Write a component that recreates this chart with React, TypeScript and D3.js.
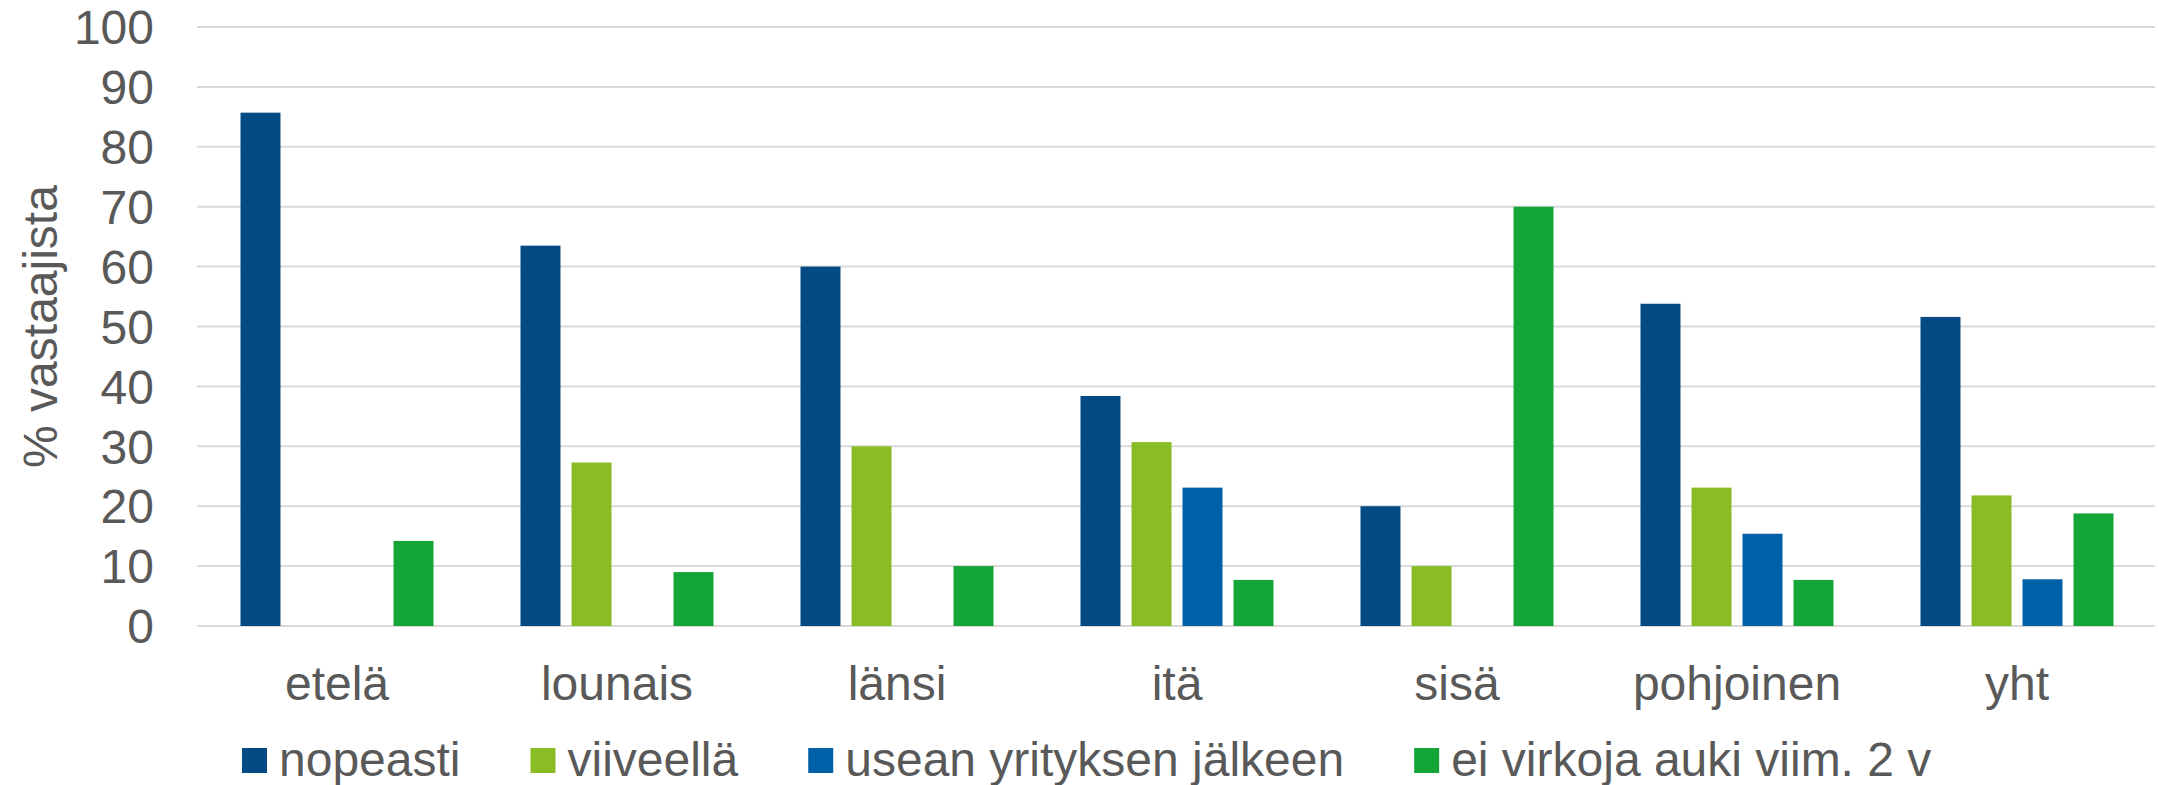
import React, { useEffect, useRef } from "react";
import * as d3 from "d3";

const regions = ["etelä", "lounais", "länsi", "itä", "sisä", "pohjoinen", "yht"];
const seriesNames = ["nopeasti", "viiveellä", "usean yrityksen jälkeen", "ei virkoja auki viim. 2 v"];
const seriesColors = ["#044a84", "#8abc26", "#0061a8", "#14a538"];

const nopeasti = [85.7, 63.5, 60, 38.4, 20, 53.8, 51.6];
const viiveella = [0, 27.3, 30, 30.7, 10, 23.1, 21.8];
const usean = [0, 0, 0, 23.1, 0, 15.4, 7.8];
const eiVirkoja = [14.2, 9, 10, 7.7, 70, 7.7, 18.8];

const yTicks = [0, 10, 20, 30, 40, 50, 60, 70, 80, 90, 100];

const W = 2158;
const H = 785;
const FONT = "'Liberation Sans', Arial, sans-serif";
const TEXT = "#595959";
const FS = 48;

export default function App() {
  const ref = useRef<SVGSVGElement>(null);

  useEffect(() => {
    const svg = d3.select(ref.current);
    svg.selectAll("*").remove();

    const values = [nopeasti, viiveella, usean, eiVirkoja];
    const left = 197, right = 2157, top = 27, bottom = 626;

    const x = d3.scaleBand<string>().domain(regions).range([left, right]);
    const xs = d3
      .scaleBand<number>()
      .domain(d3.range(seriesNames.length))
      .range([-96.5, 96.5])
      .paddingInner(0.216);
    const y = d3.scaleLinear().domain([0, 100]).range([bottom, top]);

    // grid
    svg
      .append("g")
      .selectAll("line")
      .data(yTicks)
      .join("line")
      .attr("x1", left)
      .attr("x2", 2155)
      .attr("y1", (d) => y(d))
      .attr("y2", (d) => y(d))
      .attr("stroke", "#d9d9d9")
      .attr("stroke-width", 2);

    // y tick labels
    svg
      .append("g")
      .selectAll("text")
      .data(yTicks)
      .join("text")
      .attr("x", 154)
      .attr("y", (d) => y(d))
      .attr("dy", "0.36em")
      .attr("text-anchor", "end")
      .attr("font-family", FONT)
      .attr("font-size", FS)
      .attr("fill", TEXT)
      .text((d) => d);

    // bars
    const groups = svg
      .append("g")
      .selectAll("g")
      .data(regions)
      .join("g")
      .attr("transform", (d) => `translate(${x(d)! + x.bandwidth() / 2},0)`);

    groups
      .selectAll("rect")
      .data((_, i) => values.map((s, k) => ({ k, v: s[i] })).filter((d) => d.v > 0))
      .join("rect")
      .attr("x", (d) => xs(d.k)!)
      .attr("width", xs.bandwidth())
      .attr("y", (d) => y(d.v))
      .attr("height", (d) => y(0) - y(d.v))
      .attr("fill", (d) => seriesColors[d.k]);

    // category labels
    svg
      .append("g")
      .selectAll("text")
      .data(regions)
      .join("text")
      .attr("x", (d) => x(d)! + x.bandwidth() / 2)
      .attr("y", 700)
      .attr("text-anchor", "middle")
      .attr("font-family", FONT)
      .attr("font-size", FS)
      .attr("fill", TEXT)
      .text((d) => d);

    // y title
    svg
      .append("text")
      .attr("transform", `translate(57,${(top + bottom) / 2}) rotate(-90)`)
      .attr("text-anchor", "middle")
      .attr("font-family", FONT)
      .attr("font-size", FS)
      .attr("fill", TEXT)
      .text("% vastaajista");

    // legend
    const legend = svg.append("g");
    let lx = 242;
    seriesNames.forEach((name, k) => {
      legend
        .append("rect")
        .attr("x", lx)
        .attr("y", 748)
        .attr("width", 25)
        .attr("height", 25)
        .attr("fill", seriesColors[k]);
      const t = legend
        .append("text")
        .attr("x", lx + 37)
        .attr("y", 776)
        .attr("font-family", FONT)
        .attr("font-size", FS)
        .attr("fill", TEXT)
        .text(name);
      const w = (t.node() as SVGTextElement).getComputedTextLength();
      lx = lx + 37 + w + 70;
    });
  }, []);

  return (
    <svg
      ref={ref}
      width={W}
      height={H}
      style={{ position: "absolute", left: 0, top: 0, background: "#fff" }}
    />
  );
}
